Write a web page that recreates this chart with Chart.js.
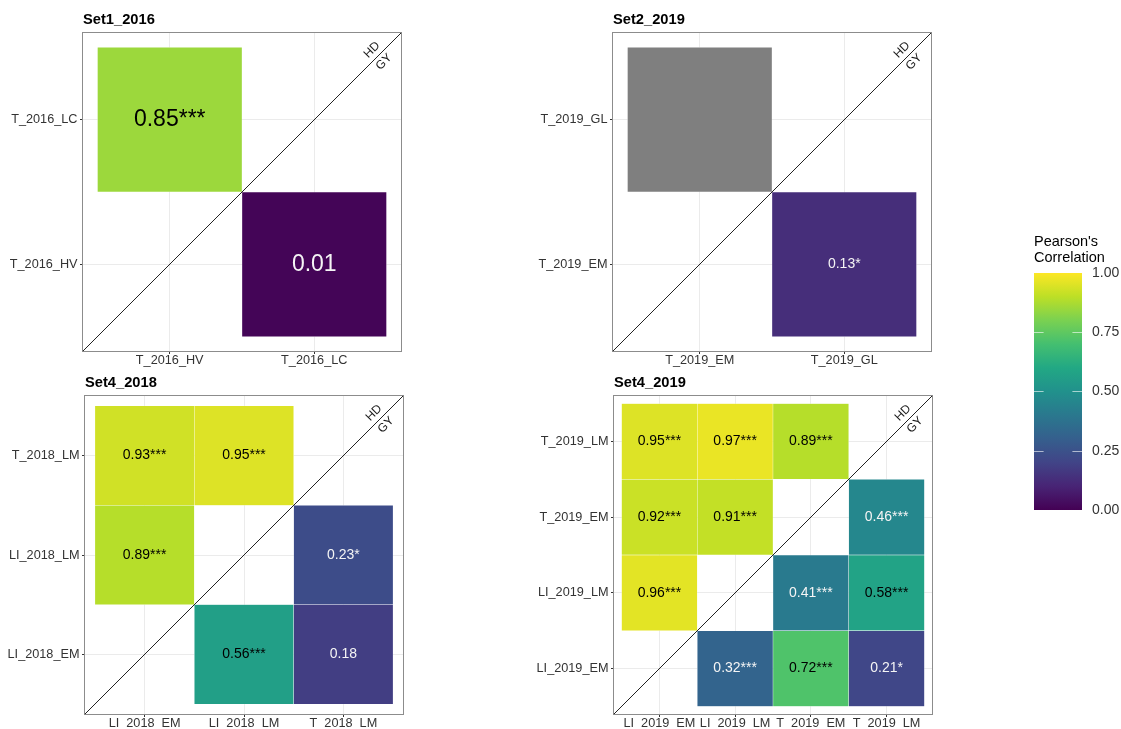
<!DOCTYPE html>
<html>
<head>
<meta charset="utf-8">
<title>Pearson's correlation heatmaps</title>
<script src="https://cdn.jsdelivr.net/npm/chart.js@4.4.1/dist/chart.umd.min.js"></script>
<style>
  body { margin: 0; background: #fff; }
  #page { position: relative; width: 1121px; height: 729px; overflow: hidden; background: #fff; }
  #page canvas { position: absolute; }
</style>
</head>
<body>
<div id="page">
  <canvas id="set1" width="420" height="368" style="left:0px;top:0px"></canvas>
  <canvas id="set2" width="420" height="368" style="left:520px;top:0px"></canvas>
  <canvas id="set4a" width="420" height="366" style="left:0px;top:363px"></canvas>
  <canvas id="set4b" width="420" height="366" style="left:520px;top:363px"></canvas>
  <canvas id="legend" width="101" height="305" style="left:1020px;top:225px"></canvas>
</div>
<script>
const FONT = "'Liberation Sans', Arial, Helvetica, sans-serif";

// Set1_2016
const set1Vars = ['T_2016_HV', 'T_2016_LC'];
const set1X = ['T_2016_HV', 'T_2016_LC'];
const set1Y = ['T_2016_LC', 'T_2016_HV'];
const set1R = [0.85, 0.01];
const set1Sig = ['***', ''];

// Set2_2019 (first cell has no value -> grey)
const set2Vars = ['T_2019_EM', 'T_2019_GL'];
const set2X = ['T_2019_EM', 'T_2019_GL'];
const set2Y = ['T_2019_GL', 'T_2019_EM'];
const set2R = [null, 0.13];
const set2Sig = ['', '*'];

// Set4_2018
const set4aVars = ['LI_2018_EM', 'LI_2018_LM', 'T_2018_LM'];
const set4aX = ['LI_2018_EM', 'LI_2018_LM', 'LI_2018_EM', 'T_2018_LM', 'LI_2018_LM', 'T_2018_LM'];
const set4aY = ['T_2018_LM', 'T_2018_LM', 'LI_2018_LM', 'LI_2018_LM', 'LI_2018_EM', 'LI_2018_EM'];
const set4aR = [0.93, 0.95, 0.89, 0.23, 0.56, 0.18];
const set4aSig = ['***', '***', '***', '*', '***', ''];

// Set4_2019
const set4bVars = ['LI_2019_EM', 'LI_2019_LM', 'T_2019_EM', 'T_2019_LM'];
const set4bX = ['LI_2019_EM', 'LI_2019_LM', 'T_2019_EM',
                'LI_2019_EM', 'LI_2019_LM', 'T_2019_LM',
                'LI_2019_EM', 'T_2019_EM', 'T_2019_LM',
                'LI_2019_LM', 'T_2019_EM', 'T_2019_LM'];
const set4bY = ['T_2019_LM', 'T_2019_LM', 'T_2019_LM',
                'T_2019_EM', 'T_2019_EM', 'T_2019_EM',
                'LI_2019_LM', 'LI_2019_LM', 'LI_2019_LM',
                'LI_2019_EM', 'LI_2019_EM', 'LI_2019_EM'];
const set4bR = [0.95, 0.97, 0.89, 0.92, 0.91, 0.46, 0.96, 0.41, 0.58, 0.32, 0.72, 0.21];
const set4bSig = ['***', '***', '***', '***', '***', '***', '***', '***', '***', '***', '***', '*'];

// colour bar
const legendTicks = [0, 0.25, 0.5, 0.75, 1];

// viridis palette
const viridisStops = ['#440154', '#482475', '#414487', '#355f8d', '#2a788e', '#21918c',
                      '#22a884', '#44bf70', '#7ad151', '#bddf26', '#fde725'];

function hexRgb(h) {
    return [1, 3, 5].map(i => parseInt(h.slice(i, i + 2), 16));
}

function viridis(t) {
    const n = viridisStops.length - 1;
    const p = Math.min(Math.max(t, 0), 1) * n;
    const i = Math.min(Math.floor(p), n - 1);
    const f = p - i;
    const a = hexRgb(viridisStops[i]);
    const b = hexRgb(viridisStops[i + 1]);
    const c = a.map((v, k) => Math.round(v + (b[k] - v) * f));
    return `rgb(${c[0]},${c[1]},${c[2]})`;
}

const EXPAND = 0.1;

function buildPanel(id, title, vars, xs, ys, rs, sigs, look) {
    const n = vars.length;
    const lo = 0.5 - EXPAND;
    const hi = n + 0.5 + EXPAND;
    const pos = v => vars.indexOf(v) + 1;

    const tiles = xs.map((v, i) => ({ x: pos(v), y: [pos(ys[i]) - 0.5, pos(ys[i]) + 0.5] }));
    const colors = rs.map(r => r === null ? '#7f7f7f' : viridis(r));

    const axisTicks = scale => { scale.ticks = vars.map((v, i) => ({ value: i + 1 })); };
    const grid = { color: '#ebebeb', lineWidth: 1, tickColor: '#333333', tickLength: 3, offset: false };
    const tickFont = { family: FONT, size: 12.7, lineHeight: 1 };

    const tileLabels = {
        id: 'tileLabels',
        afterDatasetsDraw(chart) {
            const { ctx, scales: { x, y } } = chart;
            ctx.save();
            ctx.font = `${look.valueSize}px ${FONT}`;
            ctx.textAlign = 'center';
            ctx.textBaseline = 'middle';
            rs.forEach((r, i) => {
                if (r === null) return;
                ctx.fillStyle = r < 0.5 ? '#f5f5f5' : '#000000';
                ctx.fillText(r.toFixed(2) + sigs[i],
                    x.getPixelForValue(pos(xs[i])), y.getPixelForValue(pos(ys[i])));
            });
            ctx.restore();
        }
    };

    const frame = {
        id: 'frame',
        afterDraw(chart) {
            const { ctx, chartArea: a } = chart;
            ctx.save();
            ctx.strokeStyle = '#8c8c8c';
            ctx.lineWidth = 1;
            ctx.strokeRect(a.left - 0.5, a.top - 0.5, a.width + 1, a.height + 1);
            // HD / GY labels along the diagonal
            ctx.translate(a.right, a.top);
            ctx.rotate(-Math.PI / 4);
            ctx.font = `12px ${FONT}`;
            ctx.fillStyle = '#1a1a1a';
            ctx.textAlign = 'center';
            ctx.textBaseline = 'middle';
            ctx.fillText('HD', -32.5, -8.5);
            ctx.fillText('GY', -32.5, 8.5);
            ctx.restore();
        }
    };

    return new Chart(document.getElementById(id), {
        type: 'bar',
        data: {
            datasets: [{
                type: 'line',
                data: [{ x: lo, y: lo }, { x: hi, y: hi }],
                borderColor: '#222222',
                borderWidth: 1,
                pointRadius: 0,
                order: 0
            }, {
                data: tiles,
                backgroundColor: colors,
                borderColor: 'rgba(255,255,255,0.55)',
                borderWidth: 0.5,
                borderSkipped: false,
                barPercentage: 1,
                categoryPercentage: 1,
                order: 1
            }]
        },
        options: {
            responsive: false,
            animation: false,
            events: [],
            layout: { padding: { left: 0, right: look.padRight, top: 0, bottom: 0 } },
            scales: {
                x: {
                    type: 'linear',
                    min: lo,
                    max: hi,
                    bounds: 'data',
                    offset: false,
                    afterBuildTicks: axisTicks,
                    afterFit: scale => { scale.height = look.axisH; },
                    ticks: {
                        callback: v => vars[v - 1],
                        font: tickFont,
                        color: '#333333',
                        padding: 0,
                        autoSkip: false,
                        maxRotation: 0,
                        minRotation: 0
                    },
                    grid: grid,
                    border: { display: false }
                },
                y: {
                    type: 'linear',
                    min: lo,
                    max: hi,
                    bounds: 'data',
                    beginAtZero: false,
                    afterBuildTicks: axisTicks,
                    afterFit: scale => { scale.width = look.axisW; },
                    ticks: {
                        callback: v => vars[v - 1],
                        font: tickFont,
                        color: '#333333',
                        padding: 2.5
                    },
                    grid: grid,
                    border: { display: false }
                }
            },
            plugins: {
                legend: { display: false },
                tooltip: { enabled: false },
                title: {
                    display: true,
                    text: title,
                    align: 'start',
                    fullSize: false,
                    color: '#000000',
                    font: { family: FONT, size: 14.7, weight: 'bold', lineHeight: 1.2 },
                    padding: { top: look.titleTop, bottom: 33 - look.titleTop - 14.7 * 1.2 }
                }
            }
        },
        plugins: [tileLabels, frame]
    });
}

buildPanel('set1', 'Set1_2016', set1Vars, set1X, set1Y, set1R, set1Sig,
    { axisW: 83, axisH: 17, padRight: 19, titleTop: 10.7, valueSize: 23 });
buildPanel('set2', 'Set2_2019', set2Vars, set2X, set2Y, set2R, set2Sig,
    { axisW: 93, axisH: 17, padRight: 9, titleTop: 10.7, valueSize: 14 });
buildPanel('set4a', 'Set4_2018', set4aVars, set4aX, set4aY, set4aR, set4aSig,
    { axisW: 85, axisH: 15, padRight: 17, titleTop: 11.2, valueSize: 14 });
buildPanel('set4b', 'Set4_2019', set4bVars, set4bX, set4bY, set4bR, set4bSig,
    { axisW: 94, axisH: 15, padRight: 8, titleTop: 11.2, valueSize: 14 });

// colour bar legend
const barTicks = {
    id: 'barTicks',
    afterDatasetsDraw(chart) {
        const { ctx, chartArea: a, scales: { y } } = chart;
        const len = a.width / 5;
        ctx.save();
        ctx.strokeStyle = 'rgba(255,255,255,0.6)';
        ctx.lineWidth = 1;
        legendTicks.slice(1, -1).forEach(v => {
            const py = Math.round(y.getPixelForValue(v)) + 0.5;
            ctx.beginPath();
            ctx.moveTo(a.left, py); ctx.lineTo(a.left + len, py);
            ctx.moveTo(a.right - len, py); ctx.lineTo(a.right, py);
            ctx.stroke();
        });
        ctx.restore();
    }
};

new Chart(document.getElementById('legend'), {
    type: 'bar',
    data: {
        labels: ['r'],
        datasets: [{
            data: [[legendTicks[0], legendTicks[legendTicks.length - 1]]],
            backgroundColor: ctx => {
                const area = ctx.chart.chartArea;
                if (!area) return viridis(0.5);
                const g = ctx.chart.ctx.createLinearGradient(0, area.bottom, 0, area.top);
                viridisStops.forEach((c, i) => g.addColorStop(i / (viridisStops.length - 1), c));
                return g;
            },
            borderWidth: 0,
            barPercentage: 1,
            categoryPercentage: 1
        }]
    },
    options: {
        responsive: false,
        animation: false,
        events: [],
        layout: { padding: { left: 14, right: 0, top: 0, bottom: 20 } },
        scales: {
            x: { display: false },
            y: {
                position: 'right',
                min: legendTicks[0],
                max: legendTicks[legendTicks.length - 1],
                afterBuildTicks: scale => { scale.ticks = legendTicks.map(v => ({ value: v })); },
                afterFit: scale => { scale.width = 39; },
                ticks: {
                    callback: v => v.toFixed(2),
                    font: { family: FONT, size: 14 },
                    color: '#333333',
                    padding: 10
                },
                grid: { display: false, drawTicks: false },
                border: { display: false }
            }
        },
        plugins: {
            legend: { display: false },
            tooltip: { enabled: false },
            title: {
                display: true,
                text: ["Pearson's", 'Correlation'],
                align: 'start',
                color: '#000000',
                font: { family: FONT, size: 14.5, weight: 'normal', lineHeight: 1.1 },
                padding: { top: 9, bottom: 7 }
            }
        }
    },
    plugins: [barTicks]
});
</script>
</body>
</html>
